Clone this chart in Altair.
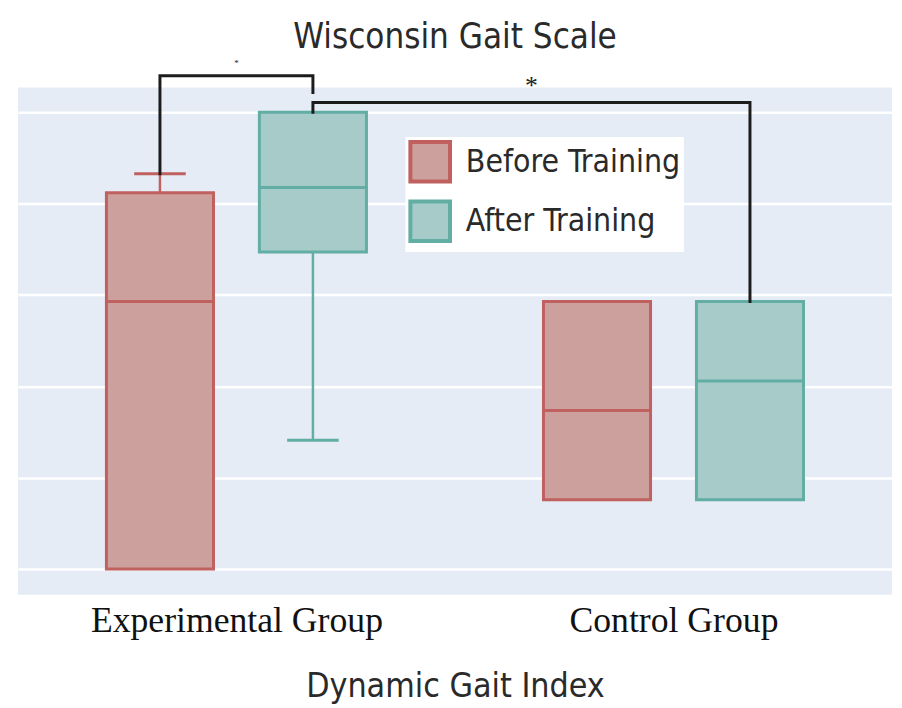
import json
import altair as alt
import pandas as pd

# ---------------- data ----------------
groups = ["Experimental Group", "Control Group"]
phases = ["Before Training", "After Training"]
box_group = [0, 0, 1, 1]
box_phase = ["Before Training", "After Training", "Before Training", "After Training"]
q1 = [0.0, 17.35, 3.8, 3.8]
median = [14.64, 20.88, 8.68, 10.3]
q3 = [20.6, 25.0, 14.64, 14.64]
whisk_lo = [0.0, 7.05, 3.8, 3.8]
whisk_hi = [21.64, 25.0, 14.64, 14.64]

# significance brackets: (left box, right box, top height, left leg end, right leg end, label, label y)
br_left_box = [0, 1]
br_right_box = [1, 3]
br_top = [27.0, 25.54]
br_left_end = [21.64, 25.0]
br_right_end = [26.08, 14.64]
br_label = ["*", "*"]
br_label_y = [27.72, 26.46]
br_label_size = [9, 26]

y_ticks = [0, 5, 10, 15, 20, 25]

# ---------------- style ----------------
NARROW = "Liberation Sans Narrow, DejaVu Sans Condensed, Roboto, sans-serif"
SERIF = "Liberation Serif, DejaVu Serif, serif"
fill_colors = ["#cca09c", "#a6cbc8"]
stroke_colors = ["#c0605f", "#62ada4"]
offset = 0.175
half_w = 0.1225
cap_w = 0.059

xs = [g + (-offset if p == phases[0] else offset) for g, p in zip(box_group, box_phase)]

boxes = pd.DataFrame({
    "phase": box_phase, "x": xs,
    "xl": [x - half_w for x in xs], "xr": [x + half_w for x in xs],
    "q1": q1, "med": median, "q3": q3, "lo": whisk_lo, "hi": whisk_hi,
})

whisk_rows = []
for i in range(4):
    if whisk_hi[i] > q3[i]:
        whisk_rows.append({"phase": box_phase[i], "x": xs[i], "a": q3[i], "b": whisk_hi[i],
                           "cl": xs[i] - cap_w, "cr": xs[i] + cap_w})
    if whisk_lo[i] < q1[i]:
        whisk_rows.append({"phase": box_phase[i], "x": xs[i], "a": q1[i], "b": whisk_lo[i],
                           "cl": xs[i] - cap_w, "cr": xs[i] + cap_w})
whisk = pd.DataFrame(whisk_rows)

br_rows = []
lab_rows = []
for k in range(len(br_top)):
    xl = xs[br_left_box[k]]
    xr = xs[br_right_box[k]]
    pts = [(xl, br_left_end[k]), (xl, br_top[k]), (xr, br_top[k]), (xr, br_right_end[k])]
    for j, (px, py) in enumerate(pts):
        br_rows.append({"b": k, "o": j, "x": px, "y": py})
    lab_rows.append({"x": (xl + xr) / 2, "y": br_label_y[k], "t": br_label[k], "s": br_label_size[k]})
brackets = pd.DataFrame(br_rows)
labels = pd.DataFrame(lab_rows)

xscale = alt.Scale(domain=[-0.5, 1.5], nice=False, zero=False)
yscale = alt.Scale(domain=[-1.41, 26.36], nice=False, zero=False)

label_expr = json.dumps(groups) + "[datum.value]"

xenc = alt.X("xl:Q", scale=xscale, axis=alt.Axis(
    values=[0, 1], labelExpr=label_expr, grid=False, ticks=False, tickSize=0, domain=False,
    labelFont=SERIF, labelFontSize=36, labelColor="#111", labelBaseline="alphabetic",
    labelPadding=37, labelFlush=False, labelOverlap=False, labelLimit=0,
    title="Dynamic Gait Index", titleFont=NARROW, titleFontSize=34, titleFontWeight="normal",
    titleColor="#2a2a2a", titleBaseline="alphabetic", titleY=103))
yaxis = alt.Axis(values=y_ticks, labels=False, ticks=False, domain=False, grid=True,
                 gridColor="white", gridWidth=2.5, title=None)

fill_enc = alt.Fill("phase:N", scale=alt.Scale(domain=phases, range=fill_colors),
                    legend=alt.Legend(title=None))
stroke_enc = alt.Stroke("phase:N", scale=alt.Scale(domain=phases, range=stroke_colors),
                        legend=alt.Legend(title=None))

box = alt.Chart(boxes).mark_rect(strokeWidth=3).encode(
    x=xenc, x2="xr:Q",
    y=alt.Y("q1:Q", scale=yscale, axis=yaxis), y2="q3:Q",
    fill=fill_enc, stroke=stroke_enc)

med = alt.Chart(boxes).mark_rule(strokeWidth=3).encode(
    x=alt.X("xl:Q", scale=xscale), x2="xr:Q", y=alt.Y("med:Q", scale=yscale), stroke=stroke_enc)

wh = alt.Chart(whisk).mark_rule(strokeWidth=2.5).encode(
    x=alt.X("x:Q", scale=xscale), y=alt.Y("a:Q", scale=yscale), y2="b:Q", stroke=stroke_enc)

caps = alt.Chart(whisk).mark_rule(strokeWidth=3).encode(
    x=alt.X("cl:Q", scale=xscale), x2="cr:Q", y=alt.Y("b:Q", scale=yscale), stroke=stroke_enc)

br = alt.Chart(brackets).mark_line(color="#1c1c1c", strokeWidth=3, strokeCap="square",
                                   strokeJoin="miter").encode(
    x=alt.X("x:Q", scale=xscale), y=alt.Y("y:Q", scale=yscale),
    detail="b:N", order="o:Q")

txt = alt.Chart(labels).mark_text(font=SERIF, color="#222", baseline="middle").encode(
    x=alt.X("x:Q", scale=xscale), y=alt.Y("y:Q", scale=yscale), text="t:N",
    size=alt.Size("s:Q", scale=None, legend=None))

chart = alt.layer(box, wh, caps, med, br, txt).properties(
    width=882, height=512,
    title=alt.TitleParams("Wisconsin Gait Scale", font=NARROW, fontSize=35, fontWeight="normal",
                          color="#2a2a2a", anchor="middle", frame="group",
                          baseline="alphabetic", offset=-24),
    autosize=alt.AutoSizeParams(type="none"),
    padding={"left": 10, "top": 77, "right": 2, "bottom": 111},
).configure_view(fill="#e5ecf6", stroke=None).configure_legend(
    orient="none", legendX=391, legendY=50, fillColor="white", padding=3,
    symbolType="square", symbolSize=1600, symbolStrokeWidth=4, symbolOpacity=1,
    labelFont=NARROW, labelFontSize=32, labelColor="#2a2a2a", labelLimit=0,
    labelOffset=14, rowPadding=4,
).configure_scale(continuousPadding=0)

chart.save("out.html", embed_options={"renderer": "svg", "actions": False})
